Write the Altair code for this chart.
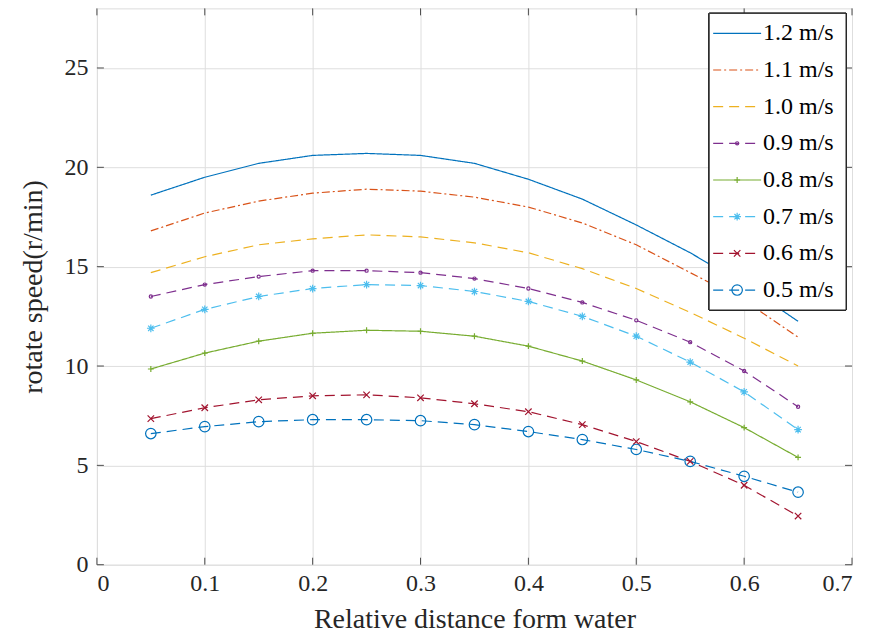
import altair as alt
import pandas as pd

# ---------------- data ----------------
x_vals = [0.05, 0.10, 0.15, 0.20, 0.25, 0.30, 0.35, 0.40, 0.45, 0.50, 0.55, 0.60, 0.65]
labels = ["1.2 m/s", "1.1 m/s", "1.0 m/s", "0.9 m/s", "0.8 m/s", "0.7 m/s", "0.6 m/s", "0.5 m/s"]
s12 = [18.6, 19.5, 20.2, 20.6, 20.7, 20.6, 20.2, 19.4, 18.4, 17.1, 15.7, 14.1, 12.25]
s11 = [16.8, 17.7, 18.3, 18.7, 18.9, 18.8, 18.5, 18.0, 17.2, 16.1, 14.7, 13.3, 11.45]
s10 = [14.7, 15.5, 16.1, 16.4, 16.6, 16.5, 16.2, 15.7, 14.9, 13.9, 12.7, 11.4, 10.0]
s09 = [13.5, 14.1, 14.5, 14.8, 14.8, 14.7, 14.4, 13.9, 13.2, 12.3, 11.2, 9.75, 7.95]
s08 = [9.85, 10.65, 11.25, 11.65, 11.8, 11.75, 11.5, 11.0, 10.25, 9.3, 8.2, 6.9, 5.4]
s07 = [11.9, 12.85, 13.5, 13.9, 14.1, 14.05, 13.75, 13.25, 12.5, 11.5, 10.2, 8.7, 6.8]
s06 = [7.35, 7.9, 8.3, 8.5, 8.55, 8.4, 8.1, 7.7, 7.05, 6.2, 5.2, 4.0, 2.45]
s05 = [6.6, 6.95, 7.2, 7.3, 7.3, 7.25, 7.05, 6.7, 6.3, 5.8, 5.2, 4.45, 3.65]
series = [s12, s11, s10, s09, s08, s07, s06, s05]
marker_labels = ["0.9 m/s", "0.8 m/s", "0.7 m/s", "0.6 m/s", "0.5 m/s"]
x_ticks = [0, 0.1, 0.2, 0.3, 0.4, 0.5, 0.6, 0.7]
y_ticks = [0, 5, 10, 15, 20, 25]

colors = ["#0072BD", "#D95319", "#EDB120", "#7E2F8E", "#77AC30", "#4DBEEE", "#A2142F", "#0072BD"]
dashes = [[1, 0], [8, 3, 2, 3], [10, 6], [10, 6], [1, 0], [10, 6], [10, 6], [10, 6]]
PLUS = "M-1,0L1,0M0,-1L0,1"
STAR = "M-1,0L1,0M0,-1L0,1M-0.7,-0.7L0.7,0.7M-0.7,0.7L0.7,-0.7"
XMARK = "M-0.7,-0.7L0.7,0.7M-0.7,0.7L0.7,-0.7"
shapes = ["circle", PLUS, STAR, XMARK, "circle"]
sizes = [10, 110, 110, 110, 100]

rows = []
for lab, vals in zip(labels, series):
    for xv, yv in zip(x_vals, vals):
        rows.append({"x": xv, "y": yv, "speed": lab})
df = pd.DataFrame(rows)
df_m = df[df["speed"].isin(marker_labels)]

W, H = 756, 557
FONT = "Liberation Serif"

color_scale = alt.Scale(domain=labels, range=colors)
dash_scale = alt.Scale(domain=labels, range=dashes)
shape_scale = alt.Scale(domain=marker_labels, range=shapes)
size_scale = alt.Scale(domain=marker_labels, range=sizes)

xs = alt.Scale(domain=[0, 0.7], nice=False)
ys = alt.Scale(domain=[0, 28], nice=False)

base = alt.Chart(df)

lines = base.mark_line(strokeWidth=1.2).encode(
    x=alt.X("x:Q", scale=xs,
            axis=alt.Axis(values=x_ticks, title="Relative distance form water",
                          labelExpr="datum.value == 0 ? '0' : format(datum.value, '.1f')",
                          grid=True, gridColor="#dedede", ticks=False, domain=False,
                          labelFont=FONT, labelFontSize=24, labelColor="#262626", labelPadding=7,
                          titleFont=FONT, titleFontSize=28, titleFontWeight="normal",
                          titleColor="#262626", titlePadding=10)),
    y=alt.Y("y:Q", scale=ys,
            axis=alt.Axis(values=y_ticks, title="rotate speed(r/min)",
                          grid=True, gridColor="#dedede", ticks=False, domain=False,
                          labelFont=FONT, labelFontSize=24, labelColor="#262626", labelPadding=9,
                          titleFont=FONT, titleFontSize=28, titleFontWeight="normal",
                          titleColor="#262626", titlePadding=16)),
    color=alt.Color("speed:N", scale=color_scale, legend=None),
    strokeDash=alt.StrokeDash("speed:N", scale=dash_scale, legend=None),
    detail="speed:N",
)

points = alt.Chart(df_m).mark_point(filled=False, strokeWidth=1.2, opacity=1).encode(
    x=alt.X("x:Q", scale=xs),
    y=alt.Y("y:Q", scale=ys),
    color=alt.Color("speed:N", scale=color_scale, legend=None),
    shape=alt.Shape("speed:N", scale=shape_scale, legend=None),
    size=alt.Size("speed:N", scale=size_scale, legend=None),
)

tick_col = "#4d4d4d"
xt = pd.DataFrame({"v": x_ticks})
yt = pd.DataFrame({"v": y_ticks})
bt = alt.Chart(xt).mark_rule(color=tick_col, strokeWidth=1).encode(
    x=alt.X("v:Q", scale=xs), y=alt.value(H), y2=alt.value(H - 7))
tt = alt.Chart(xt).mark_rule(color=tick_col, strokeWidth=1).encode(
    x=alt.X("v:Q", scale=xs), y=alt.value(0), y2=alt.value(7))
lt = alt.Chart(yt).mark_rule(color=tick_col, strokeWidth=1).encode(
    y=alt.Y("v:Q", scale=ys), x=alt.value(0), x2=alt.value(7))
rt = alt.Chart(yt).mark_rule(color=tick_col, strokeWidth=1).encode(
    y=alt.Y("v:Q", scale=ys), x=alt.value(W), x2=alt.value(W - 7))

main = alt.layer(lines, points, bt, tt, lt, rt)

# ---------------- legend ----------------
leg = pd.DataFrame({"speed": labels})
leg_m = leg[leg["speed"].isin(marker_labels)]
ly = alt.Y("speed:N", scale=alt.Scale(type="point", domain=labels, range=[25, 282], padding=0), axis=None)

box = alt.Chart(leg).mark_rect(fill="white", stroke="#262626", strokeWidth=1).encode(
    x=alt.value(613), x2=alt.value(750), y=alt.value(5), y2=alt.value(302))
leg_lines = alt.Chart(leg).mark_rule(strokeWidth=1.2).encode(
    x=alt.value(617), x2=alt.value(665), y=ly,
    color=alt.Color("speed:N", scale=color_scale, legend=None),
    strokeDash=alt.StrokeDash("speed:N", scale=dash_scale, legend=None))
leg_pts = alt.Chart(leg_m).mark_point(filled=False, strokeWidth=1.2, opacity=1).encode(
    x=alt.value(641), y=ly,
    color=alt.Color("speed:N", scale=color_scale, legend=None),
    shape=alt.Shape("speed:N", scale=shape_scale, legend=None),
    size=alt.Size("speed:N", scale=size_scale, legend=None))
leg_text = alt.Chart(leg).mark_text(align="left", baseline="middle", font=FONT,
                                     fontSize=24, color="#000000").encode(
    x=alt.value(667), y=ly, text="speed:N")
legend = alt.layer(box, leg_lines, leg_pts, leg_text)

chart = alt.layer(main, legend).resolve_scale(y="independent").properties(
    width=W, height=H,
    autosize=alt.AutoSizeParams(type="none"),
    padding={"left": 89, "top": 0, "right": 10, "bottom": 70},
).configure_view(stroke="#4d4d4d", strokeWidth=1.2).configure(background="white")

chart.save("out.html", embed_options={"renderer": "svg", "actions": False})
